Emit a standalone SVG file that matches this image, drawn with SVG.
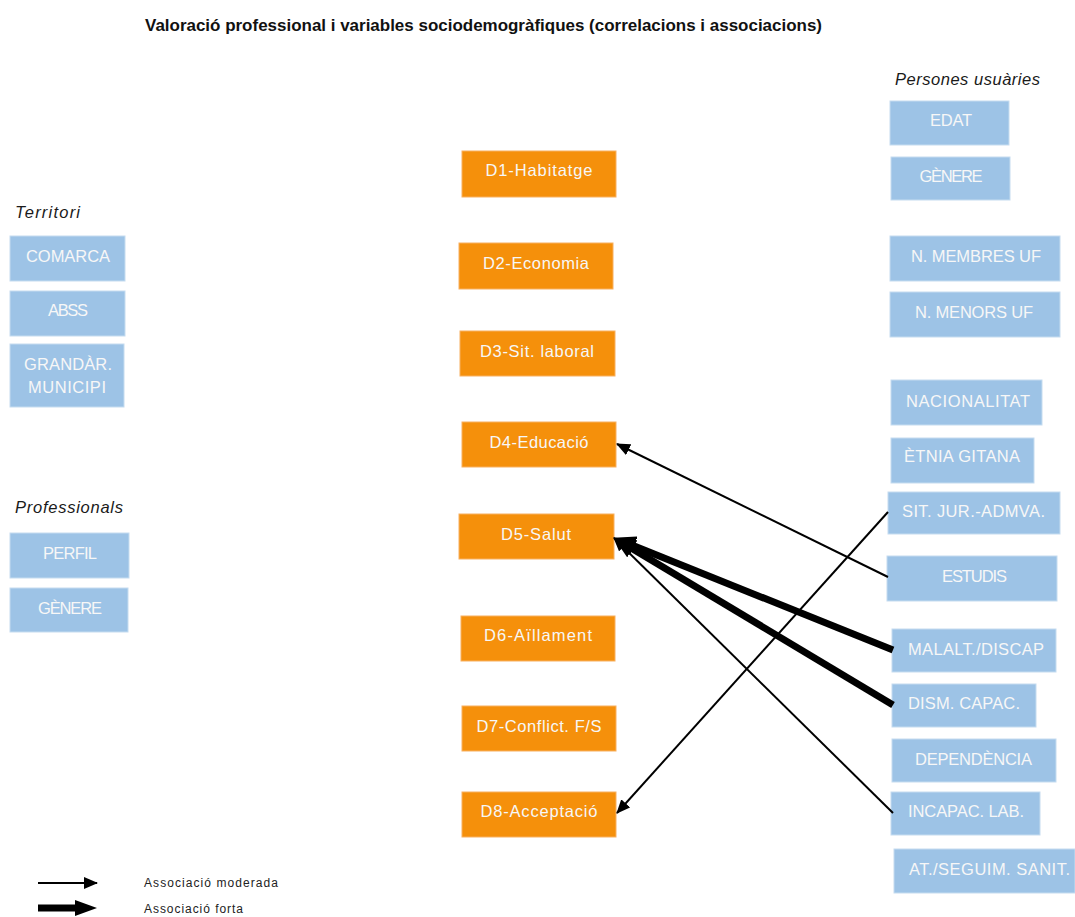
<svg xmlns="http://www.w3.org/2000/svg" width="1075" height="917" viewBox="0 0 1075 917">
<style>
.o{fill:#F5900B;stroke:#F8B060;stroke-width:1}
.b{fill:#9DC3E6;stroke:#C5DCF0;stroke-width:1}
.t{font-family:"Liberation Sans",Arial,sans-serif;font-size:16.5px;fill:#F7F7F7;text-anchor:middle}
.h{font-family:"Liberation Sans",Arial,sans-serif;font-size:16.5px;font-style:italic;fill:#1a1a1a}
.title{font-family:"Liberation Sans",Arial,sans-serif;font-size:17px;font-weight:bold;fill:#111}
.lg{font-family:"Liberation Sans",Arial,sans-serif;font-size:12px;fill:#222}
.thin{stroke:#000;stroke-width:2;fill:none}
.thick{stroke:#000;stroke-width:7;fill:none}
</style>
<defs>
<marker id="aT" markerUnits="userSpaceOnUse" markerWidth="14" markerHeight="12" refX="13" refY="6" orient="auto"><path d="M0,0 L14,6 L0,12 z" fill="#000"/></marker>
<marker id="aK" markerUnits="userSpaceOnUse" markerWidth="22" markerHeight="20" refX="1" refY="10" orient="auto"><path d="M0,0 L22,10 L0,20 z" fill="#000"/></marker>
</defs>
<rect width="1075" height="917" fill="#fff"/>
<text class="title" x="145" y="31" textLength="677" lengthAdjust="spacingAndGlyphs">Valoració professional i variables sociodemogràfiques (correlacions i associacions)</text>

<text class="h" x="15" y="218" textLength="65">Territori</text>
<text class="h" x="15" y="513" textLength="108">Professionals</text>
<text class="h" x="895" y="85" textLength="145">Persones usuàries</text>

<g id="d1"><rect class="o" x="462" y="151" width="154" height="46"/><text class="t" x="539" y="176" textLength="107">D1-Habitatge</text></g>
<g id="d2"><rect class="o" x="459" y="243" width="154" height="46"/><text class="t" x="536" y="269" textLength="106">D2-Economia</text></g>
<g id="d3"><rect class="o" x="460" y="331" width="155" height="45"/><text class="t" x="537" y="357" textLength="114">D3-Sit. laboral</text></g>
<g id="d4"><rect class="o" x="462" y="422" width="154" height="45"/><text class="t" x="539" y="448" textLength="99">D4-Educació</text></g>
<g id="d5"><rect class="o" x="459" y="514" width="155" height="45"/><text class="t" x="536" y="540" textLength="70">D5-Salut</text></g>
<g id="d6"><rect class="o" x="461" y="616" width="154" height="45"/><text class="t" x="538" y="641" textLength="108">D6-Aïllament</text></g>
<g id="d7"><rect class="o" x="462" y="706" width="154" height="45"/><text class="t" x="539" y="732" textLength="125">D7-Conflict. F/S</text></g>
<g id="d8"><rect class="o" x="462" y="792" width="154" height="45"/><text class="t" x="539" y="817" textLength="117">D8-Acceptació</text></g>

<g id="comarca"><rect class="b" x="10" y="236" width="115" height="45"/><text class="t" x="68" y="262" textLength="84">COMARCA</text></g>
<g id="abss"><rect class="b" x="10" y="291" width="115" height="45"/><text class="t" x="68" y="316" textLength="40">ABSS</text></g>
<g id="grandar"><rect class="b" x="10" y="344" width="114" height="63"/><text class="t" x="68" y="370" textLength="88">GRANDÀR.</text><text class="t" x="67" y="393" textLength="78">MUNICIPI</text></g>
<g id="perfil"><rect class="b" x="10" y="533" width="119" height="45"/><text class="t" x="70" y="559" textLength="54">PERFIL</text></g>
<g id="genere-prof"><rect class="b" x="10" y="588" width="118" height="44"/><text class="t" x="70" y="614" textLength="64">GÈNERE</text></g>

<g id="edat"><rect class="b" x="890" y="101" width="119" height="44"/><text class="t" x="951" y="126" textLength="42">EDAT</text></g>
<g id="genere-us"><rect class="b" x="891" y="157" width="119" height="43"/><text class="t" x="951" y="182" textLength="63">GÈNERE</text></g>
<g id="membres"><rect class="b" x="890" y="236" width="170" height="45"/><text class="t" x="976" y="262" textLength="130">N. MEMBRES UF</text></g>
<g id="menors"><rect class="b" x="890" y="292" width="170" height="45"/><text class="t" x="974" y="318" textLength="118">N. MENORS UF</text></g>
<g id="nacionalitat"><rect class="b" x="891" y="380" width="151" height="45"/><text class="t" x="968" y="407" textLength="124">NACIONALITAT</text></g>
<g id="etnia"><rect class="b" x="891" y="438" width="143" height="45"/><text class="t" x="962" y="462" textLength="116">ÈTNIA GITANA</text></g>
<g id="sitjur"><rect class="b" x="888" y="492" width="172" height="42"/><text class="t" x="973.5" y="517" textLength="143">SIT. JUR.-ADMVA.</text></g>
<g id="estudis"><rect class="b" x="887" y="556" width="170" height="45"/><text class="t" x="974.5" y="582" textLength="65">ESTUDIS</text></g>
<g id="malalt"><rect class="b" x="892" y="629" width="164" height="43"/><text class="t" x="976" y="655" textLength="136">MALALT./DISCAP</text></g>
<g id="dism"><rect class="b" x="892" y="684" width="144" height="43"/><text class="t" x="964" y="709" textLength="112">DISM. CAPAC.</text></g>
<g id="dependencia"><rect class="b" x="892" y="739" width="164" height="43"/><text class="t" x="973.5" y="765" textLength="117">DEPENDÈNCIA</text></g>
<g id="incapac"><rect class="b" x="891" y="792" width="149" height="43"/><text class="t" x="966" y="817" textLength="116">INCAPAC. LAB.</text></g>
<g id="atseguim"><rect class="b" x="894" y="849" width="181" height="44"/><text class="t" x="989.5" y="875" textLength="161">AT./SEGUIM. SANIT.</text></g>

<g id="connectors">
<line class="thin" x1="888" y1="577" x2="617" y2="444" marker-end="url(#aT)"/>
<line class="thin" x1="888" y1="512" x2="617" y2="813" marker-end="url(#aT)"/>
<line class="thin" x1="893" y1="813" x2="614" y2="538" marker-end="url(#aT)"/>
<line class="thick" x1="893" y1="650" x2="633" y2="545.5" marker-end="url(#aK)"/>
<line class="thick" x1="893" y1="705" x2="631.5" y2="548.3" marker-end="url(#aK)"/>
</g>

<g id="legend">
<line class="thin" x1="38" y1="883" x2="97" y2="883" marker-end="url(#aT)"/>
<line x1="38" y1="908" x2="76" y2="908" stroke="#000" stroke-width="7"/>
<path d="M75,900 L97,908 L75,916 z" fill="#000"/>
<text class="lg" x="144" y="887" textLength="134">Associació moderada</text>
<text class="lg" x="144" y="913" textLength="99">Associació forta</text>
</g>
</svg>
